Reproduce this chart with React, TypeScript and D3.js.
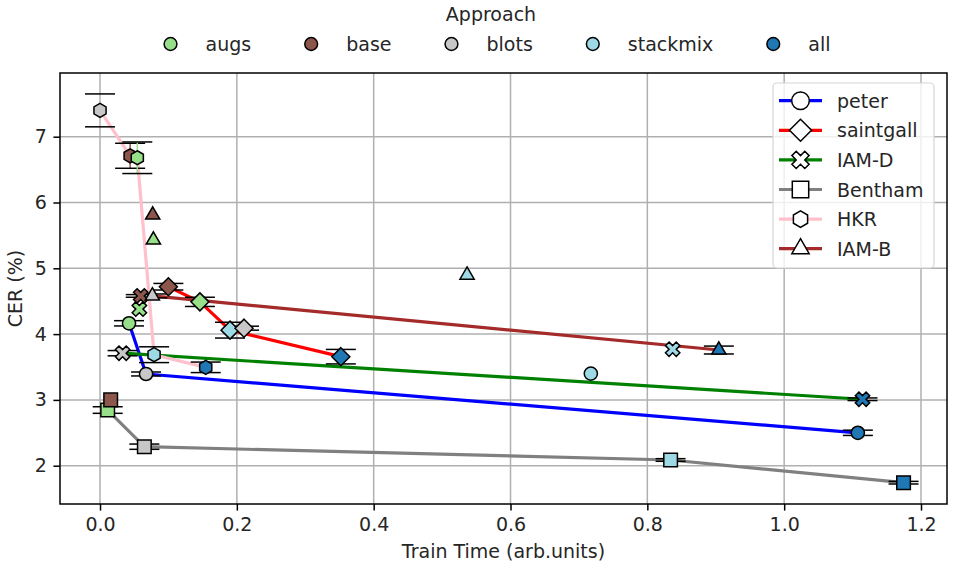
import { useEffect, useRef } from 'react';
import * as d3 from 'd3';

// approaches (marker fill colour)
const APPROACHES = ['augs', 'base', 'blots', 'stackmix', 'all'];
const APPROACH_COLORS = ['#98df8a', '#8c564b', '#c7c7c7', '#9edae5', '#1f77b4'];

// datasets (marker shape + pareto line colour)
const DATASETS = ['peter', 'saintgall', 'IAM-D', 'Bentham', 'HKR', 'IAM-B'];
const DATASET_COLORS = ['#0000ff', '#ff0000', '#008000', '#808080', '#ffc0cb', '#a52a2a'];
const DATASET_MARKERS = ['circle', 'diamond', 'x', 'square', 'hexagon', 'triangle'];

// [approach, train time, CER, std]  (std 0 = no error bar)
type Run = [string, number, number, number];
const PETER: Run[] = [
  ['augs', 0.0424, 4.164, 0.04],
  ['blots', 0.0673, 3.394, 0.03],
  ['stackmix', 0.7174, 3.4, 0],
  ['all', 1.1077, 2.5, 0.04],
];
const SAINTGALL: Run[] = [
  ['base', 0.0999, 4.72, 0.05],
  ['augs', 0.146, 4.49, 0.07],
  ['stackmix', 0.19, 4.06, 0.12],
  ['blots', 0.2105, 4.09, 0.03],
  ['all', 0.352, 3.657, 0.11],
];
const IAM_D: Run[] = [
  ['blots', 0.033, 3.71, 0.04],
  ['augs', 0.0575, 4.38, 0],
  ['base', 0.0595, 4.58, 0.02],
  ['stackmix', 0.837, 3.77, 0],
  ['all', 1.1145, 3.01, 0.02],
];
const BENTHAM: Run[] = [
  ['augs', 0.0112, 2.846, 0.05],
  ['base', 0.0156, 3.0, 0],
  ['blots', 0.0648, 2.289, 0.04],
  ['stackmix', 0.834, 2.087, 0.02],
  ['all', 1.1745, 1.742, 0.02],
];
const HKR: Run[] = [
  ['blots', 0.0, 7.4, 0.25],
  ['base', 0.044, 6.71, 0.19],
  ['augs', 0.0545, 6.68, 0.24],
  ['stackmix', 0.079, 3.687, 0.12],
  ['all', 0.1545, 3.495, 0.08],
];
const IAM_B: Run[] = [
  ['blots', 0.0765, 4.58, 0.03],
  ['base', 0.077, 5.81, 0],
  ['augs', 0.078, 5.43, 0],
  ['stackmix', 0.5365, 4.897, 0],
  ['all', 0.9045, 3.758, 0.06],
];
const RUNS = [PETER, SAINTGALL, IAM_D, BENTHAM, HKR, IAM_B];

const X_TICKS = [0, 0.2, 0.4, 0.6, 0.8, 1.0, 1.2];
const Y_TICKS = [2, 3, 4, 5, 6, 7];

const W = 953;
const H = 572;
const AX = { left: 60, right: 947, top: 73, bottom: 504 };
const FONT = '"DejaVu Sans", Verdana, sans-serif';
const FS = 19;

// marker outline centred on 0,0; size ~ half extent in px
function markerPath(shape: string, s: number): string {
  const poly = (pts: [number, number][]) => 'M' + pts.map(p => p.join(',')).join('L') + 'Z';
  const regular = (n: number, r: number) =>
    poly(d3.range(n).map(i => {
      const a = (-90 + (360 / n) * i) * Math.PI / 180;
      return [r * Math.cos(a), r * Math.sin(a)] as [number, number];
    }));
  switch (shape) {
    case 'circle':
      return `M${s},0A${s},${s} 0 1 1 ${-s},0A${s},${s} 0 1 1 ${s},0Z`;
    case 'square':
      return poly([[-s, -s], [s, -s], [s, s], [-s, s]]);
    case 'diamond':
      return poly([[0, -s], [s, 0], [0, s], [-s, 0]]);
    case 'hexagon':
      return regular(6, s);
    case 'triangle': {
      // centroid at 0 like matplotlib '^'
      return regular(3, s);
    }
    case 'x': {
      const k = s / 2;
      const pts: [number, number][] = [
        [-1, -2], [0, -1], [1, -2], [2, -1], [1, 0], [2, 1],
        [1, 2], [0, 1], [-1, 2], [-2, 1], [-1, 0], [-2, -1],
      ];
      return poly(pts.map(([a, b]) => [a * k, b * k] as [number, number]));
    }
  }
  return '';
}

const PLOT_SIZE: Record<string, number> = {
  circle: 6.6, square: 6.8, diamond: 9, hexagon: 7, triangle: 8.2, x: 7.2,
};
const LEGEND_SIZE: Record<string, number> = {
  circle: 8.8, square: 8.2, diamond: 11, hexagon: 8.2, triangle: 10, x: 8.6,
};

function paretoFront(rows: Run[]): Run[] {
  const sorted = [...rows].sort((a, b) => a[1] - b[1] || a[2] - b[2]);
  let best = Infinity;
  const out: Run[] = [];
  for (const r of sorted) {
    if (r[2] < best) {
      out.push(r);
      best = r[2];
    }
  }
  return out;
}

export default function App() {
  const svgRef = useRef<SVGSVGElement>(null);

  useEffect(() => {
    if (!svgRef.current) return;
    const svg = d3.select(svgRef.current);
    svg.selectAll('*').remove();

    const x = d3.scaleLinear().domain([-0.0585, 1.238]).range([AX.left, AX.right]);
    const y = d3.scaleLinear().domain([1.418, 7.968]).range([AX.bottom, AX.top]);
    const approachColor = d3.scaleOrdinal<string, string>().domain(APPROACHES).range(APPROACH_COLORS);

    svg.append('rect').attr('width', W).attr('height', H).attr('fill', '#fff');

    // grid
    const grid = svg.append('g').attr('stroke', '#b0b0b0').attr('stroke-width', 1.5);
    X_TICKS.forEach(t => {
      grid.append('line').attr('x1', x(t)).attr('x2', x(t)).attr('y1', AX.top).attr('y2', AX.bottom);
    });
    Y_TICKS.forEach(t => {
      grid.append('line').attr('x1', AX.left).attr('x2', AX.right).attr('y1', y(t)).attr('y2', y(t));
    });

    // pareto lines
    const line = d3.line<Run>().x(d => x(d[1])).y(d => y(d[2]));
    RUNS.forEach((rows, i) => {
      svg.append('path')
        .attr('d', line(paretoFront(rows)))
        .attr('fill', 'none')
        .attr('stroke', DATASET_COLORS[i])
        .attr('stroke-width', 3.2)
        .attr('stroke-linejoin', 'round')
        .attr('stroke-linecap', 'round');
    });

    // error bars
    const eb = svg.append('g');
    RUNS.forEach(rows => {
      rows.filter(r => r[3] > 0).forEach(r => {
        const cx = x(r[1]);
        const y0 = y(r[2] - r[3]);
        const y1 = y(r[2] + r[3]);
        eb.append('line').attr('x1', cx).attr('x2', cx).attr('y1', y0).attr('y2', y1)
          .attr('stroke', approachColor(r[0])).attr('stroke-width', 1.5);
        [y0, y1].forEach(yy => {
          eb.append('line').attr('x1', cx - 15).attr('x2', cx + 15).attr('y1', yy).attr('y2', yy)
            .attr('stroke', '#000').attr('stroke-width', 1.5);
        });
      });
    });

    // markers
    RUNS.forEach((rows, i) => {
      const shape = DATASET_MARKERS[i];
      rows.forEach(r => {
        svg.append('path')
          .attr('d', markerPath(shape, PLOT_SIZE[shape]))
          .attr('transform', `translate(${x(r[1])},${y(r[2])})`)
          .attr('fill', approachColor(r[0]))
          .attr('stroke', '#000')
          .attr('stroke-width', 1.5)
          .attr('stroke-linejoin', 'miter');
      });
    });

    // axes
    const xAxis = svg.append('g')
      .attr('transform', `translate(0,${AX.bottom})`)
      .call(d3.axisBottom(x).tickValues(X_TICKS).tickFormat(d3.format('.1f')).tickSize(6.6).tickPadding(6.6));
    const yAxis = svg.append('g')
      .attr('transform', `translate(${AX.left},0)`)
      .call(d3.axisLeft(y).tickValues(Y_TICKS).tickFormat(d3.format('d')).tickSize(6.6).tickPadding(6.6));
    [xAxis, yAxis].forEach(a => {
      a.select('.domain').remove();
      a.attr('font-family', FONT).attr('font-size', FS);
      a.selectAll('line').attr('stroke', '#000').attr('stroke-width', 1.5);
      a.selectAll('text').attr('fill', '#262626');
    });

    svg.append('rect')
      .attr('x', AX.left).attr('y', AX.top)
      .attr('width', AX.right - AX.left).attr('height', AX.bottom - AX.top)
      .attr('fill', 'none').attr('stroke', '#000').attr('stroke-width', 1.5);

    svg.append('text')
      .attr('x', (AX.left + AX.right) / 2).attr('y', 558)
      .attr('text-anchor', 'middle')
      .attr('font-family', FONT).attr('font-size', FS).attr('fill', '#262626')
      .text('Train Time (arb.units)');

    svg.append('text')
      .attr('transform', `translate(22,${(AX.top + AX.bottom) / 2}) rotate(-90)`)
      .attr('text-anchor', 'middle')
      .attr('font-family', FONT).attr('font-size', FS).attr('fill', '#262626')
      .text('CER (%)');

    // top legend: approaches
    const top = svg.append('g').attr('font-family', FONT).attr('font-size', FS).attr('fill', '#262626');
    const handleLen = 38;
    const textPad = 16;
    const colGap = 41;
    const labels = APPROACHES.map(a => {
      const t = top.append('text').attr('y', 51).text(a);
      return { t, w: (t.node() as SVGTextElement).getComputedTextLength() };
    });
    const total = labels.reduce((s, l) => s + handleLen + textPad + l.w, 0) + colGap * (labels.length - 1);
    let cursor = 491 - total / 2;
    labels.forEach((l, i) => {
      top.append('path')
        .attr('d', markerPath('circle', 6.4))
        .attr('transform', `translate(${cursor + handleLen / 2},44)`)
        .attr('fill', APPROACH_COLORS[i])
        .attr('stroke', '#000').attr('stroke-width', 1.5);
      l.t.attr('x', cursor + handleLen + textPad);
      cursor += handleLen + textPad + l.w + colGap;
    });
    top.append('text')
      .attr('x', 491).attr('y', 21)
      .attr('text-anchor', 'middle')
      .text('Approach');

    // right legend: datasets
    const lg = svg.append('g').attr('font-family', FONT).attr('font-size', FS).attr('fill', '#262626');
    lg.append('rect')
      .attr('x', 773).attr('y', 83).attr('width', 161).attr('height', 185)
      .attr('rx', 4)
      .attr('fill', '#fff').attr('fill-opacity', 0.8)
      .attr('stroke', '#d6d6d6').attr('stroke-width', 1.2);
    DATASETS.forEach((name, i) => {
      const cy = 100.7 + i * 29.6;
      lg.append('line')
        .attr('x1', 779).attr('x2', 822).attr('y1', cy).attr('y2', cy)
        .attr('stroke', DATASET_COLORS[i]).attr('stroke-width', 3.2);
      const shape = DATASET_MARKERS[i];
      lg.append('path')
        .attr('d', markerPath(shape, LEGEND_SIZE[shape]))
        .attr('transform', `translate(800.5,${cy})`)
        .attr('fill', '#fff')
        .attr('stroke', '#000').attr('stroke-width', 1.5);
      lg.append('text').attr('x', 837).attr('y', cy + 7).text(name);
    });
  }, []);

  return (
    <svg
      ref={svgRef}
      width={W}
      height={H}
      style={{ position: 'absolute', left: 0, top: 0, display: 'block' }}
    />
  );
}
